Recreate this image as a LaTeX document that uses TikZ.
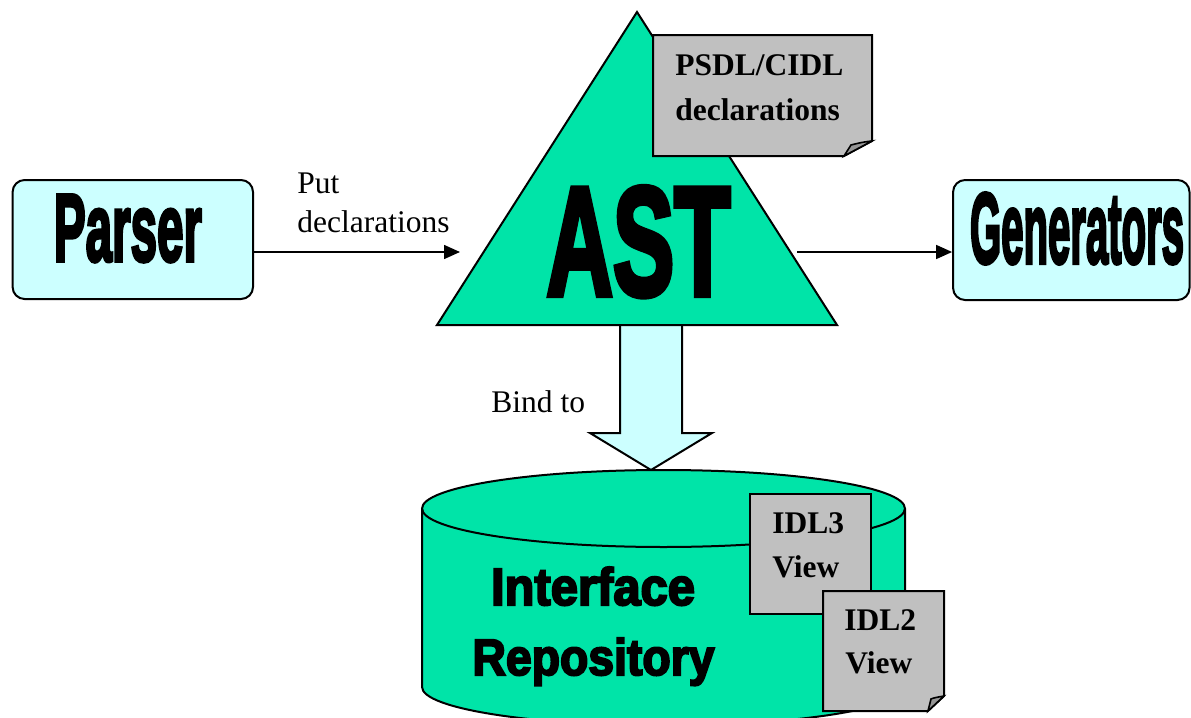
\documentclass[tikz,border=0pt]{standalone}
\usepackage{fontspec}
\setmainfont{Liberation Serif}
\newfontfamily\heavyfont{Liberation Sans}[UprightFont=* Bold, FakeBold=4]
\usetikzlibrary{arrows.meta}
\definecolor{astgreen}{RGB}{0,228,168}
\definecolor{paleblue}{RGB}{204,255,255}
\definecolor{notegray}{RGB}{192,192,192}
\definecolor{foldgray}{RGB}{150,150,150}
% heavy display word squeezed to a given width and cap height
\newcommand\heavyword[3]{\resizebox{#1}{#2}{\heavyfont #3}}
\tikzset{
  outline/.style={draw=black, line width=1pt, line join=miter},
  procbox/.style={outline, fill=paleblue, rounded corners=6pt, inner sep=0pt},
  notesheet/.style={outline, fill=notegray},
  notefold/.style={draw=black, line width=0.8pt, fill=foldgray},
  plaintext/.style={inner sep=0pt, anchor=base west, font=\fontsize{15.75}{19}\selectfont},
  notetext/.style={plaintext, font=\fontsize{15.75}{19}\selectfont\bfseries},
  bigword/.style={inner sep=0pt, anchor=base},
  flow/.style={draw=black, line width=0.8pt, -{Triangle[length=8pt, width=7pt]}},
}
\begin{document}
\begin{tikzpicture}[x=0.5pt, y=-0.5pt]
\clip (0,0) rectangle (1191,718);

% side boxes
\node[procbox, minimum width=120.2pt, minimum height=59.5pt] (parser) at (132.8,239.5) {};
\node[procbox, minimum width=118.2pt, minimum height=60pt] (gen) at (1071.3,240) {};

% anchor points on the AST triangle
\coordinate (astin) at (460,252);
\coordinate (astout) at (797,252);

\draw[flow] (astin -| parser.east) -- (astin);
\draw[flow] (astout) -- (astout -| gen.west);

% broad arrow from the AST down to the repository
\draw[outline, fill=paleblue] (620,325) -- (620,433) -- (590,433) -- (651,470)
  -- (712,433) -- (682,433) -- (682,325);

% AST triangle
\coordinate (apex) at (637,12);
\coordinate (bl) at (437,325);
\coordinate (br) at (837,325);
\draw[outline, fill=astgreen] (apex) -- (br) -- (bl) -- cycle;

% declarations sheet
\draw[notesheet] (653,35) -- (872,35) -- (872,141) -- (844,156) -- (653,156) -- cycle;
\draw[notefold] (872,141) .. controls (862,142) and (855,144) .. (851,145) -- (844,156) -- cycle;

% repository cylinder
\draw[outline, fill=astgreen] (422,508.5) -- (422,687)
  .. controls (422,708.3) and (530.1,725.5) .. (663.5,725.5)
  .. controls (796.9,725.5) and (905,708.3) .. (905,687)
  -- (905,508.5)
  .. controls (905,487.2) and (796.9,470) .. (663.5,470)
  .. controls (530.1,470) and (422,487.2) .. (422,508.5) -- cycle;
\draw[outline] (422,508.5) .. controls (422,529.8) and (530.1,547) .. (663.5,547)
  .. controls (796.9,547) and (905,529.8) .. (905,508.5);

% view sheets
\draw[notesheet] (750,494) rectangle (871,614);
\draw[notesheet] (823,591) -- (944,591) -- (944,696) -- (928,711) -- (823,711) -- cycle;
\draw[notefold] (944,696) .. controls (938,697) and (933,698) .. (931,699) -- (928,711) -- cycle;

% display words
\node[bigword] (parserlabel) at (128,261) {\heavyword{74pt}{33pt}{Parser}};
\node[bigword] (genlabel) at (1077,263) {\heavyword{107pt}{35pt}{Generators}};
\node[bigword] (astlabel) at (638.5,295) {\heavyword{92pt}{54pt}{AST}};
\node[bigword] (irlabel1) at (593,605) {\heavyword{102pt}{19pt}{Interface}};
\node[bigword] (irlabel2) at (593.5,675) {\heavyword{121pt}{18.5pt}{Repository}};

% plain labels
\node[plaintext] (put1) at (297,193) {Put};
\node[plaintext] (put2) at (297,232) {declarations};
\node[plaintext] (bind) at (491,412) {Bind to};

% sheet texts
\node[notetext] (decl1) at (675,75) {PSDL/CIDL};
\node[notetext] (decl2) at (675,120) {declarations};
\node[notetext] (idl3a) at (772,533) {IDL3};
\node[notetext] (idl3b) at (772,577) {View};
\node[notetext] (idl2a) at (844,630) {IDL2};
\node[notetext] (idl2b) at (845,673) {View};
\end{tikzpicture}
\end{document}
